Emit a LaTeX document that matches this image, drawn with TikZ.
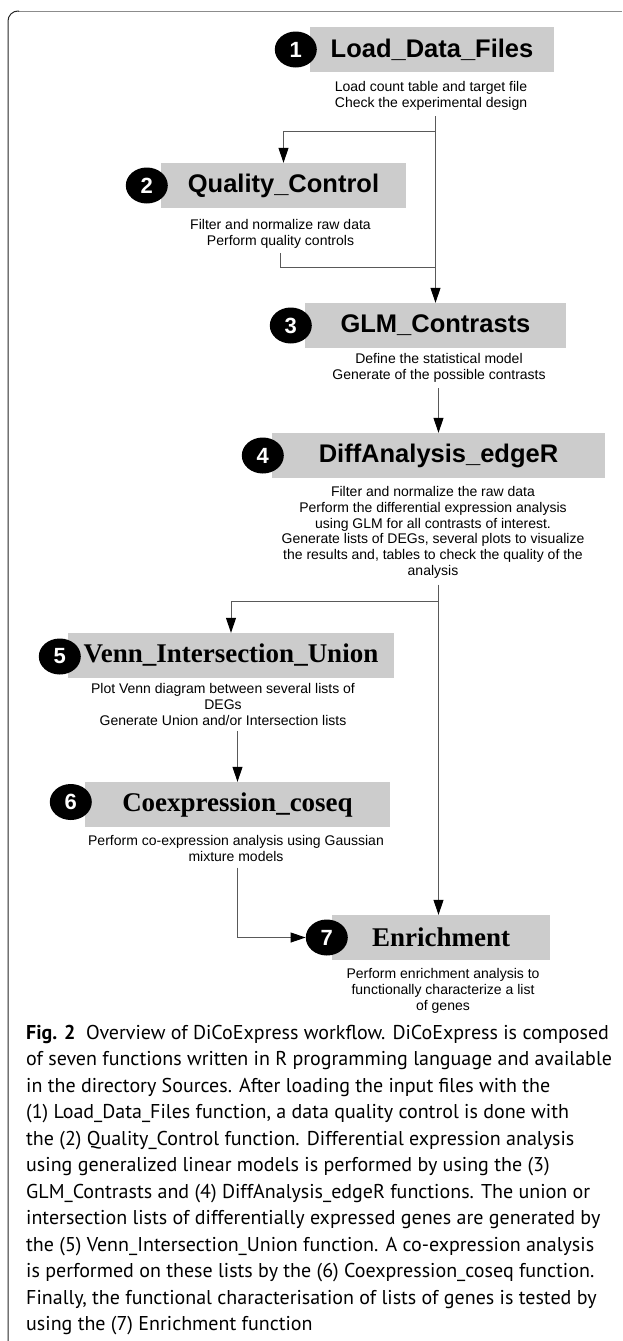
\documentclass[tikz,border=0pt]{standalone}
\usepackage{fontspec}
\usetikzlibrary{positioning,shapes.geometric,arrows.meta}
\newfontfamily\titlesans{Liberation Sans}
\newfontfamily\titleserif{Liberation Serif}
\newfontfamily\descfont{Liberation Sans}
\newfontfamily\capfont{PT Sans}
\tikzset{
		box/.style      = {fill=gray!40, minimum height=45pt, inner sep=0pt},
		sanstitle/.style  = {box, font=\titlesans\bfseries\fontsize{25.5}{30}\selectfont},
		seriftitle/.style = {box, font=\titleserif\bfseries\fontsize{27}{32}\selectfont},
		numdot/.style   = {ellipse, fill=black, text=white, minimum width=42pt,
			minimum height=36pt, inner sep=0pt, font=\titlesans\bfseries\fontsize{22}{24}\selectfont},
		desc/.style     = {align=center, inner sep=0pt, font=\descfont\fontsize{14}{15.8}\selectfont},
		flow/.style     = {draw=black!65, line width=1pt}
	}

\begin{document}
\begin{tikzpicture}[x=1pt, y=-1pt,
		>={Triangle[length=15pt,width=10pt,color=black]}]
		\useasboundingbox (0,0) rectangle (622,1341);
		% frame of the figure
		\draw[black!45, line width=1pt] (622,11) -- (18,11);
		\draw[black!85, line width=1pt, rounded corners=10pt] (19,11) -- (8,11) -- (8,1341);
		% the seven steps
		\node[sanstitle, minimum width=244pt] (b1) at (432,49.5) {Load\_Data\_Files};
		\node[sanstitle, minimum width=245pt] (b2) at (283.5,185.5) {Quality\_Control};
		\node[sanstitle, minimum width=261pt] (b3) at (435.5,325.5) {GLM\_Contrasts};
		\node[sanstitle, minimum width=333pt] (b4) at (438.5,455.5) {DiffAnalysis\_edgeR};
		\node[seriftitle, minimum width=326pt] (b5) at (231,655.5) {Venn\_Intersection\_Union};
		\node[seriftitle, minimum width=305pt] (b6) at (237.5,804.5) {Coexpression\_coseq};
		\node[seriftitle, minimum width=218pt] (b7) at (441,937.5) {Enrichment};
		% numbers
		\node[numdot] (c1) at ([xshift=-14pt]b1.west) {1};
		\node[numdot] (c2) at ([xshift=-14pt]b2.west) {2};
		\node[numdot] (c3) at ([xshift=-14pt]b3.west) {3};
		\node[numdot] (c4) at ([xshift=-9pt]b4.west) {4};
		\node[numdot] (c5) at ([xshift=-8pt, yshift=-1pt]b5.west) {5};
		\node[numdot] (c6) at ([xshift=-14pt, yshift=2.5pt]b6.west) {6};
		\node[numdot] (c7) at ([xshift=-5pt]b7.west) {7};
		% descriptions
		\node[desc, below=9pt of b1, xshift=-1pt] (d1) {Load count table and target file\\
			Check the experimental design};
		\node[desc, below=11pt of b2, xshift=-3pt] (d2) {Filter and normalize raw data\\
			Perform quality controls};
		\node[desc, below=5pt of b3, xshift=3.5pt] (d3) {Define the statistical model\\
			Generate of the possible contrasts};
		\node[desc, below=8pt of b4, xshift=-5.5pt] (d4) {Filter and normalize the raw data\\
			Perform the differential expression analysis\\
			using GLM for all contrasts of interest.\\
			Generate lists of DEGs, several plots to visualize\\
			the results and, tables to check the quality of the\\
			analysis};
		\node[desc, below=5pt of b5, xshift=-8pt] (d5) {Plot Venn diagram between several lists of\\
			DEGs\\
			Generate Union and/or Intersection lists};
		\node[desc, below=8pt of b6, xshift=-1.5pt] (d6) {Perform co-expression analysis using Gaussian\\
			mixture models};
		\node[desc, below=8pt of b7, xshift=2pt] (d7) {Perform enrichment analysis to\\
			functionally characterize a list\\
			of genes};
		% connectors
		\coordinate (j1) at (435.5,131);
		\coordinate (j2) at (435.5,267);
		\coordinate (j3) at (438.5,601);
		\draw[flow, ->] ([yshift=-6pt]d1.south -| b3.north) -- (b3.north);
		\draw[flow, ->] (j1) -| (b2.north);
		\draw[flow] ([yshift=-5pt]d2.south) |- (j2);
		\draw[flow, ->] ([yshift=-6pt]d3.south -| b4.north) -- (b4.north);
		\draw[flow, ->] ([yshift=-6pt]d4.south -| b4.north) -- (b4.north |- b7.north);
		\draw[flow, ->] (j3) -| (b5.north);
		\draw[flow, ->] ([yshift=-6pt]d5.south -| b6.north) -- (b6.north);
		\draw[flow, ->] ([yshift=-6pt]d6.south -| b6.north) |- (c7.west);
		% caption
		\node[anchor=north west, align=left, inner sep=0pt,
			font=\capfont\fontsize{20}{26.5}\selectfont] (cap) at (26,1025)
			{\textbf{Fig. 2}\ \ Overview of DiCoExpress workflow. DiCoExpress is composed\\
			of seven functions written in R programming language and available\\
			in the directory Sources. After loading the input files with the\\
			(1) Load\_Data\_Files function, a data quality control is done with\\
			the (2) Quality\_Control function. Differential expression analysis\\
			using generalized linear models is performed by using the (3)\\
			GLM\_Contrasts and (4) DiffAnalysis\_edgeR functions. The union or\\
			intersection lists of differentially expressed genes are generated by\\
			the (5) Venn\_Intersection\_Union function. A co-expression analysis\\
			is performed on these lists by the (6) Coexpression\_coseq function.\\
			Finally, the functional characterisation of lists of genes is tested by\\
			using the (7) Enrichment function};
	\end{tikzpicture}
\end{document}
